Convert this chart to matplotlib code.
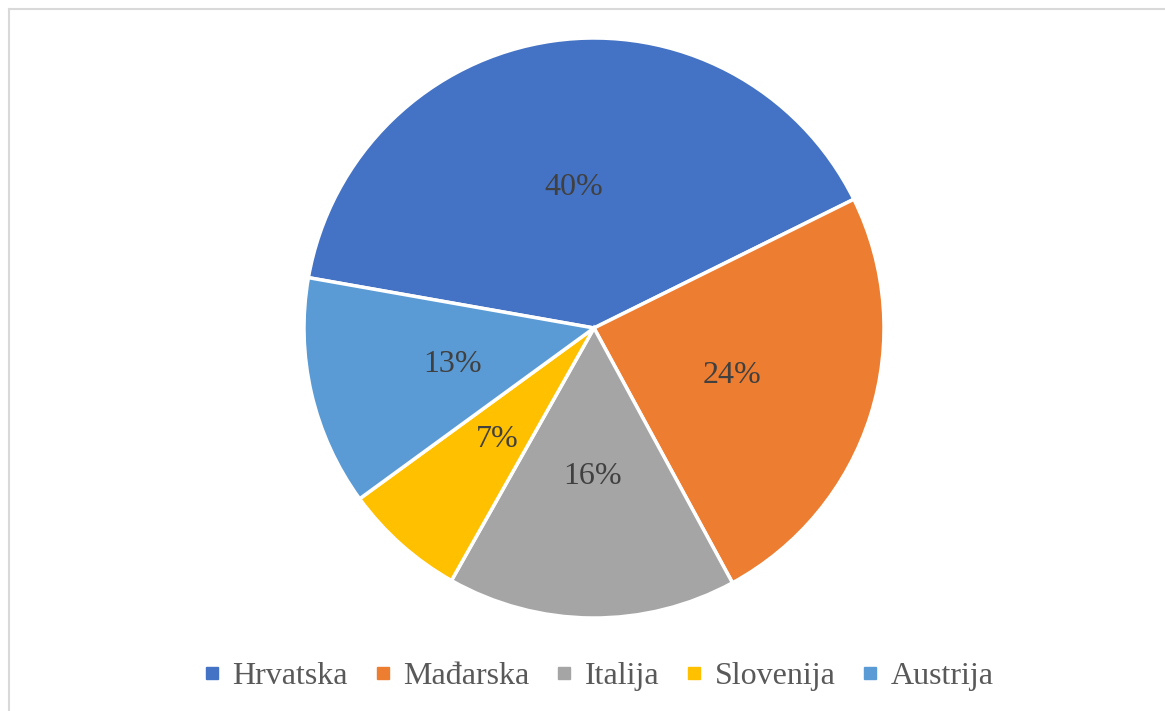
import matplotlib.pyplot as plt
from matplotlib.lines import Line2D

# data
countries = ["Hrvatska", "Mađarska", "Italija", "Slovenija", "Austrija"]
shares = [39.9, 24.4, 16.1, 6.8, 12.8]
colors = ["#4472C4", "#ED7D31", "#A5A5A5", "#FFC000", "#5B9BD5"]

plt.rcParams['font.family'] = ['Liberation Serif', 'DejaVu Serif']

W, H = 1165, 711
fig = plt.figure(figsize=(W / 100, H / 100), dpi=100)
fig.patch.set_facecolor('white')

# thin grey frame on the left and top only
fig.add_artist(Line2D([8.5 / W, 8.5 / W], [0, 1 - 9 / H], color='#d9d9d9', lw=1.5))
fig.add_artist(Line2D([8.5 / W, 1], [1 - 9 / H, 1 - 9 / H], color='#d9d9d9', lw=1.5))

cx, cy, r = 594, 328, 290
ax = fig.add_axes([(cx - r) / W, 1 - (cy + r) / H, 2 * r / W, 2 * r / H])

wedges, texts, autotexts = ax.pie(
    shares, colors=colors, startangle=170, counterclock=False,
    autopct='%1.0f%%', pctdistance=0.5, radius=1,
    wedgeprops=dict(edgecolor='white', linewidth=2.5),
    textprops=dict(color='#404040', fontsize=23))
for t in autotexts:
    t.set_va('center_baseline')
ax.set_xlim(-1, 1)
ax.set_ylim(-1, 1)

handles = [Line2D([], [], marker='s', linestyle='none', markersize=8,
                  markerfacecolor=c, markeredgecolor=c) for c in colors]
fig.legend(handles, countries, loc='center', bbox_to_anchor=(598 / W, 1 - 676 / H),
           ncol=5, frameon=False, fontsize=23, labelcolor='#595959',
           handlelength=0.6, handletextpad=0.35, columnspacing=0.78)

fig.savefig("out.png", dpi=100)
